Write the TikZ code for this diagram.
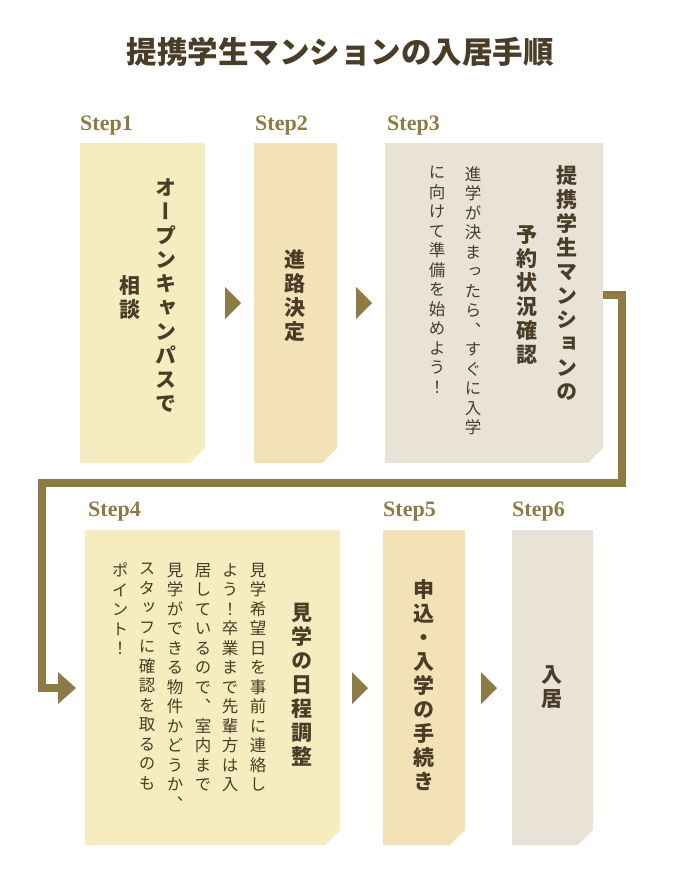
\documentclass[tikz,border=0pt]{standalone}
\usepackage{fontspec}
\usetikzlibrary{calc}
\newfontfamily\cjk[RawFeature=+vert]{Noto Sans CJK JP}
\newfontfamily\cjkh{Noto Sans CJK JP}
\newfontfamily\stepfont{Liberation Serif}
\definecolor{ink}{HTML}{4A3D28}
\definecolor{gold}{HTML}{8E7A45}
\definecolor{cream}{HTML}{F5EDC0}
\definecolor{sand}{HTML}{F3E2B8}
\definecolor{stone}{HTML}{E9E3D7}
% one character per line
\def\vt#1{\vtfirst#1\relax}
\def\vtfirst#1{#1\vtaux}
\def\vtaux#1{\ifx#1\relax\else\\#1\expandafter\vtaux\fi}
\tikzset{
  steplab/.style={text=gold, font=\stepfont\bfseries\fontsize{22}{22}\selectfont, anchor=base west, inner sep=0pt},
  head/.style={text=ink, font=\cjk\bfseries\fontsize{21}{24}\selectfont, align=center, inner sep=0pt},
  body/.style={text=ink, font=\cjk\fontsize{16.5}{19.5}\selectfont, align=center, inner sep=0pt, anchor=north},
  tri/.style={fill=gold},
  link/.style={draw=gold, line width=8pt},
}
\newcommand\card[5]{\fill[#5] (#1,#2) -- (#3,#2) -- (#3,#4-15) -- (#3-15,#4) -- (#1,#4) -- cycle;}
\newcommand\tip[2]{\fill[tri] (#1,#2-16) -- (#1+16,#2) -- (#1,#2+16) -- cycle;}
\begin{document}
\begin{tikzpicture}[x=1pt,y=-1pt]
  \useasboundingbox (0,0) rectangle (683,888);

  \node[text=ink, font=\cjkh\bfseries\fontsize{30.5}{30.5}\selectfont] (title) at (340,52) {提携学生マンションの入居手順};

  % cards
  \card{80}{143}{205}{463}{cream}
  \card{254}{143}{337}{463}{sand}
  \card{385}{143}{603}{463}{stone}
  \card{85}{530}{340}{845}{cream}
  \card{383}{530}{465}{845}{sand}
  \card{512}{530}{593}{845}{stone}

  % step labels
  \node[steplab] (s1) at (80,130) {Step1};
  \node[steplab] (s2) at (255,130) {Step2};
  \node[steplab] (s3) at (387,130) {Step3};
  \node[steplab] (s4) at (88,516) {Step4};
  \node[steplab] (s5) at (383,516) {Step5};
  \node[steplab] (s6) at (512,516) {Step6};

  % arrows
  \tip{225}{303}
  \tip{356}{303}
  \tip{352}{688}
  \tip{481}{688}

  % link from step3 to step4
  \coordinate (out3) at (603,295);
  \coordinate (in4) at (60,688);
  \draw[link] (out3) -- (622,295) -- (622,483) -- (42,483) -- (42,688) -- (in4);
  \fill[tri] (58,672) -- (76,688) -- (58,704) -- cycle;

  % texts
  \node[head] (t1a) at (166,296) {\vt{オープンキャンパスで}};
  \node[head] (t1b) at (130,298) {\vt{相談}};
  \node[head] (t2) at (295,296) {\vt{進路決定}};
  \node[head] (t3a) at (567,283) {\vt{提携学生マンションの}};
  \node[head] (t3b) at (527,295) {\vt{予約状況確認}};
  \node[body] (b3a) at (473,166) {\vt{進学が決まったら、すぐに入学}};
  \node[body] (b3b) at (437,166) {\vt{に向けて準備を始めよう！}};
  \node[head] (t4) at (302,685) {\vt{見学の日程調整}};
  \node[body] (b4a) at (258,563) {\vt{見学希望日を事前に連絡し}};
  \node[body] (b4b) at (230,563) {\vt{よう！卒業まで先輩方は入}};
  \node[body] (b4c) at (203,563) {\vt{居しているので、室内まで}};
  \node[body] (b4d) at (175,563) {\vt{見学ができる物件かどうか、}};
  \node[body] (b4e) at (147,563) {\vt{スタッフに確認を取るのも}};
  \node[body] (b4f) at (120,563) {\vt{ポイント！}};
  \node[head] (t5) at (424,685) {\vt{申込・入学の手続き}};
  \node[head] (t6) at (552,687) {\vt{入居}};
\end{tikzpicture}
\end{document}
